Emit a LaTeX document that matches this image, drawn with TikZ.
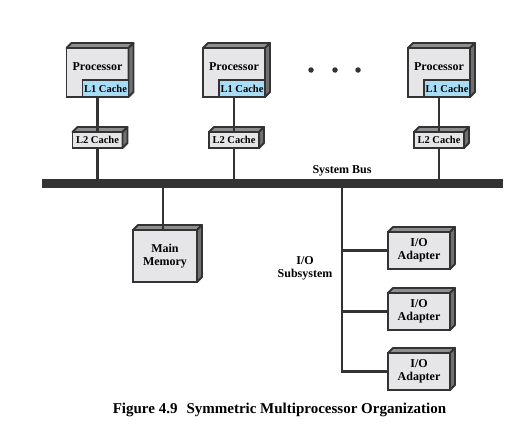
\documentclass[tikz,border=0pt]{standalone}
\usepackage{fontspec}
\setmainfont{Liberation Serif}
\definecolor{edge}{HTML}{333333}
\definecolor{front}{HTML}{E6E6E8}
\definecolor{topc}{HTML}{8E8E8E}
\definecolor{sidec}{HTML}{707070}
\definecolor{lone}{HTML}{A9DDF6}
\tikzset{
  box/.style={draw=edge, line width=1.8pt, fill=front, inner sep=0pt, outer sep=0pt,
    align=center, font=\bfseries\fontsize{12}{13}\selectfont},
  small/.style={font=\bfseries\fontsize{10.5}{11}\selectfont},
  lbl/.style={align=center, inner sep=0pt, font=\bfseries\fontsize{12}{13}\selectfont},
  topface/.style={draw=edge, line width=1.8pt, fill=topc, line join=round},
  sideface/.style={draw=edge, line width=1.8pt, fill=sidec, line join=round},
  wire/.style={draw=edge, line width=2.2pt},
  dotnode/.style={circle, fill=edge, inner sep=0pt, minimum size=5.5pt},
}
\newcommand{\faces}[1]{%
  \draw[topface] (#1.north west) -- ++(5,-5) -- ([shift={(5,-5)}]#1.north east) -- (#1.north east) -- cycle;
  \draw[sideface] (#1.north east) -- ++(5,-5) -- ([shift={(5,-5)}]#1.south east) -- (#1.south east) -- cycle;
}
\begin{document}
\begin{tikzpicture}[x=1pt, y=-1pt]
\useasboundingbox (0,0) rectangle (524,447);

% processors
\foreach \n/\x in {p1/97.5, p2/234, p3/439}{
  \node[box, minimum width=62pt, minimum height=49pt] (\n) at (\x,72.5) {};
  \faces{\n}
  \node[lbl] (\n t) at (\x,66.5) {Processor};
  \node[box, small, fill=lone, minimum width=46pt, minimum height=17pt, anchor=south east] (\n c) at (\n.south east) {L1 Cache};
  \node[box, small, minimum width=50pt, minimum height=16pt] (\n l) at (\x,140) {L2 Cache};
  \faces{\n l}
}

% dots
\node[dotnode] (d1) at (311,70) {};
\node[dotnode] (d2) at (335,70) {};
\node[dotnode] (d3) at (358,70) {};

% bus
\node[fill=edge, inner sep=0pt, outer sep=0pt, minimum width=461pt, minimum height=9pt] (bus) at (272.5,183.5) {};
\node[lbl] (buslbl) at (342,171) {System Bus};

\foreach \n in {p1,p2,p3}{
  \draw[wire] (\n.south) -- (\n l.north);
  \draw[wire] (\n l.south) -- (\n l.south |- bus.north);
}

% main memory
\node[box, minimum width=64pt, minimum height=52pt] (mm) at (165,256) {Main\\Memory};
\faces{mm}
\draw[wire] ([xshift=-2pt]mm.north) -- ([xshift=-2pt]mm.north |- bus.south);

% I/O adapters
\foreach \n/\y in {a1/250.5, a2/311.5, a3/371.5}{
  \node[box, minimum width=62pt, minimum height=37pt] (\n) at (419,\y) {I/O\\Adapter};
  \faces{\n}
}
\coordinate (iotap) at (342,188);
\draw[wire] (iotap) |- (a3.west);
\draw[wire] (iotap |- a1.west) -- (a1.west);
\draw[wire] (iotap |- a2.west) -- (a2.west);
\node[lbl] (iolbl) at (305,268) {I/O\\Subsystem};

% caption
\node[lbl, font=\bfseries\fontsize{15}{17}\selectfont] (cap) at (279.5,410) {Figure 4.9\hspace{0.6em}Symmetric Multiprocessor Organization};
\end{tikzpicture}
\end{document}
